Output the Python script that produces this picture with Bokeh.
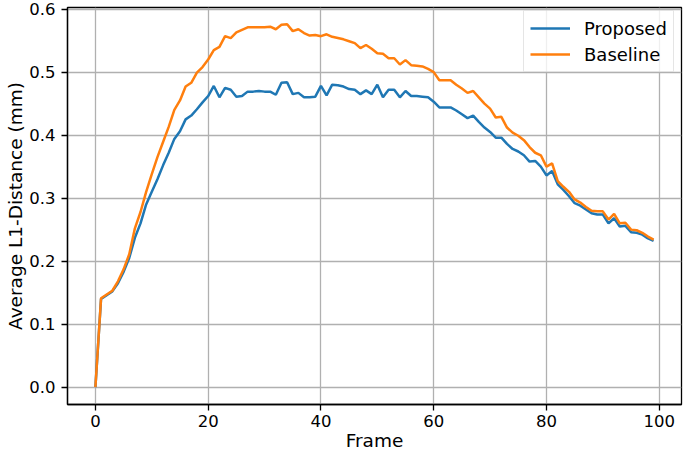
from bokeh.plotting import figure
from bokeh.models import Range1d, FixedTicker, Legend, LegendItem, CustomJSTickFormatter
from bokeh.embed import file_html
from bokeh.resources import INLINE

frames = list(range(100))

proposed = [0.0, 0.140, 0.146, 0.152, 0.165, 0.183, 0.205, 0.237, 0.260, 0.290,
            0.310, 0.330, 0.352, 0.372, 0.394, 0.406, 0.425, 0.431, 0.441, 0.452,
            0.462, 0.478, 0.460, 0.475, 0.472, 0.461, 0.462, 0.469, 0.469, 0.470,
            0.469, 0.469, 0.464, 0.483, 0.484, 0.465, 0.467, 0.460, 0.460, 0.461,
            0.478, 0.463, 0.480, 0.479, 0.477, 0.473, 0.472, 0.465, 0.471, 0.465,
            0.480, 0.460, 0.472, 0.472, 0.460, 0.470, 0.462, 0.462, 0.461, 0.460,
            0.453, 0.444, 0.444, 0.444, 0.439, 0.433, 0.427, 0.431, 0.421, 0.412,
            0.405, 0.396, 0.396, 0.386, 0.378, 0.374, 0.368, 0.358, 0.359, 0.350,
            0.336, 0.343, 0.322, 0.313, 0.303, 0.292, 0.288, 0.282, 0.276, 0.274,
            0.274, 0.260, 0.268, 0.255, 0.256, 0.246, 0.245, 0.242, 0.236, 0.232]

baseline = [0.0, 0.141, 0.147, 0.153, 0.168, 0.187, 0.211, 0.252, 0.278, 0.310,
            0.338, 0.365, 0.389, 0.413, 0.440, 0.455, 0.477, 0.483, 0.499, 0.508,
            0.520, 0.535, 0.540, 0.557, 0.554, 0.563, 0.567, 0.571, 0.571, 0.571,
            0.571, 0.572, 0.568, 0.575, 0.576, 0.565, 0.568, 0.562, 0.558, 0.559,
            0.557, 0.560, 0.556, 0.554, 0.552, 0.549, 0.546, 0.538, 0.543, 0.537,
            0.530, 0.529, 0.522, 0.522, 0.512, 0.519, 0.511, 0.510, 0.509, 0.505,
            0.500, 0.487, 0.487, 0.487, 0.480, 0.474, 0.467, 0.470, 0.460, 0.450,
            0.442, 0.428, 0.429, 0.412, 0.404, 0.399, 0.392, 0.381, 0.372, 0.368,
            0.350, 0.355, 0.327, 0.318, 0.310, 0.298, 0.293, 0.286, 0.280, 0.279,
            0.279, 0.266, 0.275, 0.260, 0.261, 0.250, 0.249, 0.245, 0.239, 0.234]

x_ticks = [0, 20, 40, 60, 80, 100]
y_ticks = [0.0, 0.1, 0.2, 0.3, 0.4, 0.5, 0.6]
series_names = ["Proposed", "Baseline"]
x_label = "Frame"
y_label = "Average L1-Distance (mm)"

FONT = "DejaVu Sans"
TICK_FS = "16.5px"
LABEL_FS = "18.5px"
LEGEND_FS = "18px"

p = figure(width=685, height=456, output_backend="svg", toolbar_location=None,
           x_range=Range1d(-4.95, 103.95), y_range=Range1d(-0.0275, 0.6025),
           min_border_left=67, min_border_right=4, min_border_top=7, min_border_bottom=52)

p.background_fill_color = "white"
p.border_fill_color = "white"
p.outline_line_color = "black"
p.outline_line_width = 1.3

r1 = p.line(frames, proposed, line_color="#1f77b4", line_width=2.5)
r2 = p.line(frames, baseline, line_color="#ff7f0e", line_width=2.5)

for ax in (p.xaxis[0], p.yaxis[0]):
    ax.axis_line_color = "black"
    ax.axis_line_width = 1.3
    ax.major_tick_line_color = "black"
    ax.major_tick_line_width = 1.3
    ax.major_tick_out = 6
    ax.major_tick_in = 0
    ax.minor_tick_line_color = None
    ax.major_label_text_font = FONT
    ax.major_label_text_font_size = TICK_FS
    ax.major_label_text_color = "black"
    ax.axis_label_text_font = FONT
    ax.axis_label_text_font_size = LABEL_FS
    ax.axis_label_text_font_style = "normal"
    ax.axis_label_text_color = "black"

p.xaxis.ticker = FixedTicker(ticks=x_ticks)
p.yaxis.ticker = FixedTicker(ticks=y_ticks)
p.yaxis.formatter = CustomJSTickFormatter(code="return tick.toFixed(1);")
p.xaxis.axis_label = x_label
p.yaxis.axis_label = y_label
p.xaxis.major_label_standoff = 4
p.yaxis.major_label_standoff = 6
p.xaxis.axis_label_standoff = 0
p.yaxis.axis_label_standoff = 0

p.grid.grid_line_color = "#b0b0b0"
p.grid.grid_line_width = 1.3
p.xgrid.ticker = FixedTicker(ticks=x_ticks)
p.ygrid.ticker = FixedTicker(ticks=y_ticks)

legend = Legend(items=[LegendItem(label=series_names[0], renderers=[r1]),
                       LegendItem(label=series_names[1], renderers=[r2])],
                location=(456, 332))
legend.label_text_font = FONT
legend.label_text_font_size = LEGEND_FS
legend.label_text_color = "black"
legend.glyph_width = 40
legend.glyph_height = 22
legend.label_height = 22
legend.label_standoff = 14
legend.padding = 6
legend.spacing = 4
legend.border_line_color = "#cccccc"
legend.border_line_width = 1.3
legend.background_fill_alpha = 0.8
legend.margin = 0
p.add_layout(legend)

open("out.html", "w").write(file_html(p, INLINE))
